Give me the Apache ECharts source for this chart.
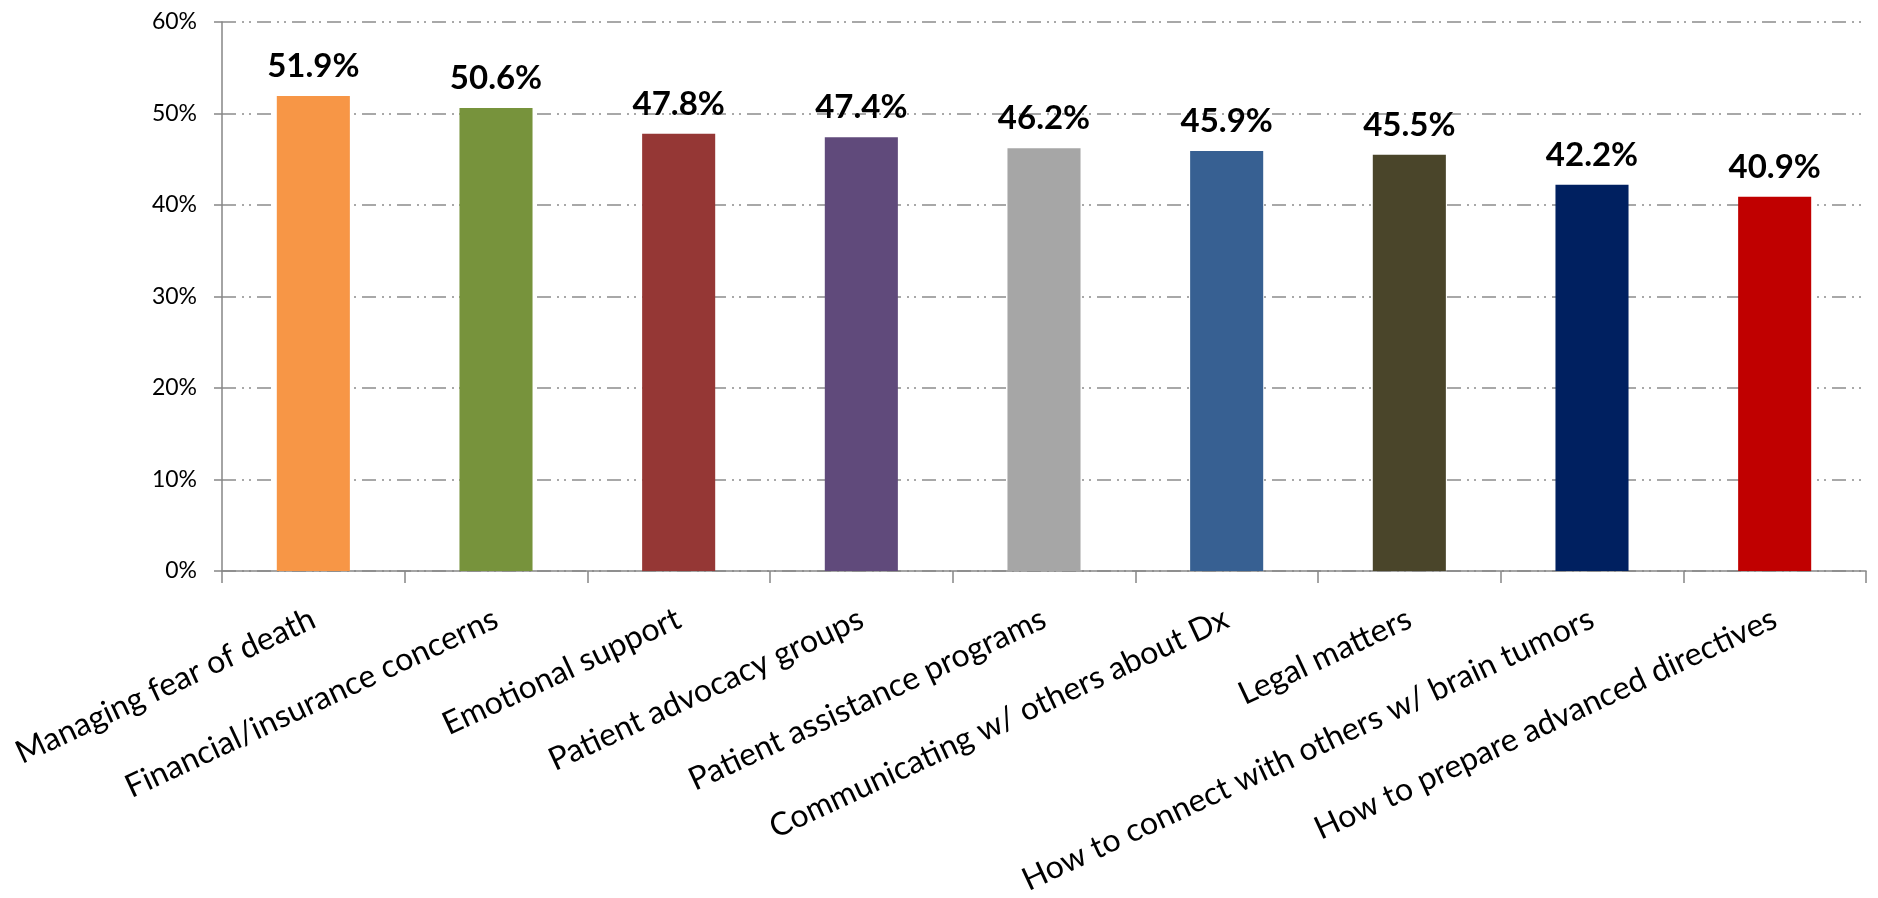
<!DOCTYPE html>
<html>
<head>
<meta charset="utf-8">
<script src="https://cdn.jsdelivr.net/npm/echarts@6/dist/echarts.min.js"></script>
<style>
html,body{margin:0;padding:0;background:#fff;}
#chart{width:1878px;height:898px;}
</style>
</head>
<body>
<div id="chart"></div>
<script>
const categories = [
  "Managing fear of death",
  "Financial/insurance concerns",
  "Emotional support",
  "Patient advocacy groups",
  "Patient assistance programs",
  "Communicating w/ others about Dx",
  "Legal matters",
  "How to connect with others w/ brain tumors",
  "How to prepare advanced directives"
];
const values = [51.9, 50.6, 47.8, 47.4, 46.2, 45.9, 45.5, 42.2, 40.9];
const barColors = ["#F79646", "#77933C", "#953735", "#604A7B", "#A6A6A6", "#376092", "#4A452A", "#002060", "#C00000"];
const yTicks = { min: 0, max: 60, interval: 10 };

const chart = echarts.init(document.getElementById('chart'), null, { renderer: 'canvas' });
const axisGray = '#868686';
chart.setOption({
  animation: false,
  backgroundColor: '#ffffff',
  grid: { left: 222, right: 12, top: 22, bottom: 327, containLabel: false, outerBoundsMode: 'none' },
  xAxis: {
    type: 'category',
    data: categories,
    boundaryGap: true,
    axisLine: { show: true, lineStyle: { color: axisGray, width: 1.5 } },
    axisTick: { show: true, length: 12, lineStyle: { color: axisGray, width: 1.5 } },
    axisLabel: {
      interval: 0,
      rotate: 25,
      align: 'right',
      verticalAlign: 'middle',
      margin: 46,
      fontFamily: 'Lato',
      fontSize: 32,
      color: '#000000'
    },
    splitLine: { show: false }
  },
  yAxis: {
    type: 'value',
    min: yTicks.min,
    max: yTicks.max,
    interval: yTicks.interval,
    axisLine: { show: true, lineStyle: { color: axisGray, width: 1.5 } },
    axisTick: { show: true, length: 8, lineStyle: { color: axisGray, width: 1.5 } },
    axisLabel: {
      formatter: '{value}%',
      margin: 25,
      fontFamily: 'Lato',
      fontSize: 23,
      color: '#000000'
    },
    splitLine: {
      show: true,
      lineStyle: { color: '#8c8c8c', width: 1.5, type: [14, 6, 2, 5, 2, 6] }
    }
  },
  series: [{
    type: 'bar',
    barWidth: '40%',
    data: values.map((v, i) => ({ value: v, itemStyle: { color: barColors[i] } })),
    label: {
      show: true,
      position: 'top',
      distance: 13,
      formatter: p => p.value.toFixed(1) + '%',
      fontFamily: 'Lato',
      fontWeight: 'bold',
      fontSize: 33,
      color: '#000000'
    }
  }]
});
</script>
</body>
</html>
